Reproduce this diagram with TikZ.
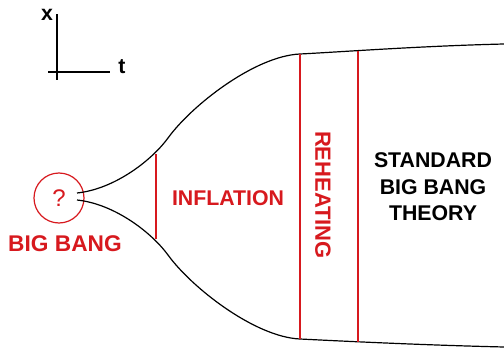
\documentclass[tikz,border=0pt]{standalone}
\usepackage{fontspec}
\setmainfont{Liberation Sans}
\definecolor{bbred}{RGB}{215,25,30}

\begin{document}
\begin{tikzpicture}[x=1pt, y=-1pt, line width=1.2pt,
    phase/.style={bbred},
    redtext/.style={text=bbred, font=\bfseries\fontsize{21.3}{26.5}\selectfont, inner sep=0pt},
    blacktext/.style={text=black, font=\bfseries\fontsize{21.3}{26.5}\selectfont, inner sep=0pt, align=center}]
    \def\W{504}         % picture width
    \def\H{348}         % picture height
    \def\ax{57}         % axes origin x
    \def\ay{72}         % axes origin y
    \def\r{25}          % big bang circle radius
    \useasboundingbox (0,0) rectangle (\W,\H);
    % Draw the axes
    \draw (\ax,14) -- (\ax,80);
    \draw (48,\ay) -- (110,\ay);
    \node[blacktext, anchor=south] (xlabel) at (47,21) {x};
    \node[blacktext] (tlabel) at (122,67) {t};
    % Draw the big bang
    \draw[phase] (59,198) circle (\r);
    \node[text=bbred, font=\fontsize{24}{24}\selectfont, inner sep=0pt] (qmark) at (59,198) {?};
    \node[redtext, font=\bfseries\fontsize{22.7}{26.5}\selectfont] (bigbang) at (65,244) {BIG BANG};
    % Draw the boundary of the universe
    \draw (77,193) .. controls (115,189) and (152,160) .. (168,138)
        .. controls (192,105) and (255,56) .. (300,54)
        .. controls (340,52) and (420,46) .. (\W,44);
    \draw (77,200) .. controls (115,204) and (152,233) .. (168,255)
        .. controls (192,288) and (255,337) .. (300,339)
        .. controls (340,341) and (420,345) .. (\W,347);
    % Draw the phase borders
    \draw[phase] (156,154) -- (156,239);
    \draw[phase] (300,54) -- (300,339);
    \draw[phase] (358,51) -- (358,342);
    % Draw the labels
    \node[redtext] (inflation) at (228,198) {INFLATION};
    \node[redtext, rotate=-90, font=\bfseries\fontsize{22}{26.5}\selectfont] (reheating) at (323,195) {REHEATING};
    \node[blacktext] (standard) at (433,187) {STANDARD\\BIG BANG\\THEORY};
\end{tikzpicture}
\end{document}
